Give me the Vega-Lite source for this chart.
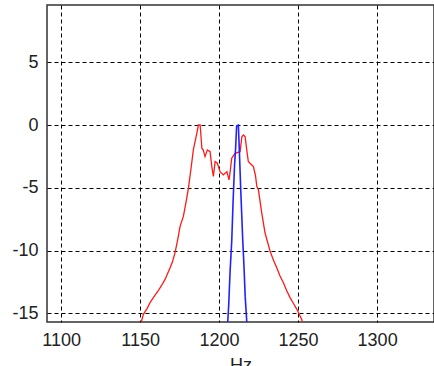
{
  "$schema": "https://vega.github.io/schema/vega-lite/v6.json",
  "width": 387,
  "height": 317,
  "autosize": {"type": "none"},
  "padding": {"left": 47, "top": 5, "right": 0, "bottom": 44},
  "background": "white",
  "config": {
    "view": {"stroke": "#333333", "strokeWidth": 1.5},
    "axis": {
      "grid": true, "gridColor": "#000000", "gridDash": [4, 3], "gridWidth": 1, "gridOpacity": 1,
      "domain": false, "ticks": false,
      "labelFont": "Liberation Sans", "labelFontSize": 18, "labelColor": "#222222",
      "titleFont": "Liberation Sans", "titleFontSize": 18, "titleFontWeight": "normal", "titleColor": "#222222",
      "labelExpr": "replace(datum.label, '\u2212', '-')"
    }
  },
  "datasets": {
    "red": [
      {"x": 1150.5, "y": -16.0}, {"x": 1150.9, "y": -15.63}, {"x": 1152.1, "y": -15.08}, {"x": 1154.5, "y": -14.6},
      {"x": 1156.5, "y": -14.1}, {"x": 1158.4, "y": -13.75}, {"x": 1161.5, "y": -13.2}, {"x": 1163.5, "y": -12.8},
      {"x": 1165.8, "y": -12.3}, {"x": 1169.0, "y": -11.37}, {"x": 1170.5, "y": -10.9}, {"x": 1172.2, "y": -10.13},
      {"x": 1174.0, "y": -9.0}, {"x": 1175.3, "y": -8.07}, {"x": 1177.4, "y": -7.28}, {"x": 1179.0, "y": -6.2},
      {"x": 1180.6, "y": -5.02}, {"x": 1182.2, "y": -3.5}, {"x": 1183.7, "y": -1.98}, {"x": 1185.9, "y": -0.66},
      {"x": 1186.9, "y": 0.0}, {"x": 1188.0, "y": 0.0}, {"x": 1188.4, "y": -0.63}, {"x": 1189.1, "y": -1.85},
      {"x": 1190.0, "y": -2.0}, {"x": 1191.1, "y": -2.52}, {"x": 1192.6, "y": -1.98}, {"x": 1194.3, "y": -2.12},
      {"x": 1195.4, "y": -3.31}, {"x": 1196.4, "y": -4.1}, {"x": 1197.5, "y": -2.91}, {"x": 1198.9, "y": -3.04},
      {"x": 1200.6, "y": -3.71}, {"x": 1202.7, "y": -3.97}, {"x": 1204.9, "y": -3.71}, {"x": 1206.3, "y": -4.37},
      {"x": 1207.0, "y": -3.71}, {"x": 1208.0, "y": -2.64}, {"x": 1210.1, "y": -2.25}, {"x": 1213.3, "y": -2.12},
      {"x": 1214.4, "y": -0.93}, {"x": 1215.4, "y": -0.79}, {"x": 1216.5, "y": -0.93}, {"x": 1217.5, "y": -1.98},
      {"x": 1218.5, "y": -2.91}, {"x": 1220.0, "y": -3.1}, {"x": 1221.7, "y": -3.31}, {"x": 1223.0, "y": -4.0},
      {"x": 1223.9, "y": -4.9}, {"x": 1224.9, "y": -5.16}, {"x": 1227.0, "y": -7.01}, {"x": 1229.1, "y": -8.6},
      {"x": 1232.3, "y": -10.06}, {"x": 1234.5, "y": -10.8}, {"x": 1236.5, "y": -11.37}, {"x": 1238.5, "y": -12.0},
      {"x": 1240.7, "y": -12.56}, {"x": 1242.8, "y": -13.2}, {"x": 1244.9, "y": -13.75}, {"x": 1247.0, "y": -14.2},
      {"x": 1249.2, "y": -14.68}, {"x": 1252.3, "y": -15.48}, {"x": 1253.2, "y": -16.0}
    ],
    "blue": [
      {"x": 1205.4, "y": -16.0}, {"x": 1205.5, "y": -15.63}, {"x": 1206.1, "y": -14.29}, {"x": 1206.96, "y": -11.67},
      {"x": 1208.0, "y": -9.26}, {"x": 1208.9, "y": -5.95}, {"x": 1209.8, "y": -3.17}, {"x": 1210.4, "y": -1.98},
      {"x": 1211.1, "y": -0.08}, {"x": 1212.2, "y": 0.0}, {"x": 1212.8, "y": -1.98}, {"x": 1213.7, "y": -5.16},
      {"x": 1215.0, "y": -9.26}, {"x": 1215.8, "y": -11.37}, {"x": 1216.5, "y": -13.63}, {"x": 1217.5, "y": -15.63},
      {"x": 1217.6, "y": -16.0}
    ]
  },
  "encoding": {
    "x": {"field": "x", "type": "quantitative", "scale": {"domain": [1091.1, 1336], "nice": false, "zero": false},
      "axis": {"values": [1100, 1150, 1200, 1250, 1300], "format": "d", "labelPadding": 9, "title": "Hz", "titlePadding": 7}},
    "y": {"field": "y", "type": "quantitative", "scale": {"domain": [-15.69, 9.56], "nice": false, "zero": false},
      "axis": {"values": [-15, -10, -5, 0, 5], "labelPadding": 9, "title": null}}
  },
  "layer": [
    {"data": {"name": "red"}, "mark": {"type": "line", "color": "#ff1a1a", "strokeWidth": 1.3, "clip": true}},
    {"data": {"name": "blue"}, "mark": {"type": "line", "color": "#2222ff", "strokeWidth": 1.6, "clip": true}}
  ]
}
